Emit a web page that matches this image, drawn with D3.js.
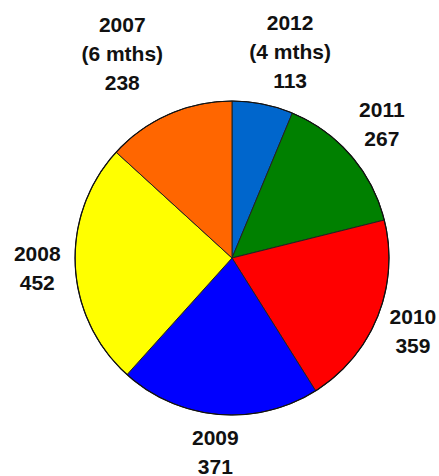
<!DOCTYPE html>
<html>
<head>
<meta charset="utf-8">
<script src="https://cdn.jsdelivr.net/npm/d3@7/dist/d3.min.js"></script>
<style>
  html, body { margin: 0; padding: 0; background: #fff; }
  svg { display: block; }
</style>
</head>
<body>
<svg id="chart" width="439" height="476"></svg>
<script>
// ---- data ----
const categories = ["2012", "2011", "2010", "2009", "2008", "2007"];
const notes = ["(4 mths)", "", "", "", "", "(6 mths)"];
const values = [113, 267, 359, 371, 452, 238];
const colors = ["#0066CC", "#008000", "#FF0000", "#0000FF", "#FFFF00", "#FF6600"];

// ---- layout ----
const W = 439, H = 476;
const cx = 232, cy = 258, r = 157;
const labelR = 195, labelR3 = 220;
const fontSize = 21, lineH = 29, capH = 15;
const labelNudge = { "2012": [15, 9], "2007": [-21, -3], "2011": [2, -7] };

const rows = categories.map((c, i) => ({ cat: c, note: notes[i], value: values[i], color: colors[i] }));

const svg = d3.select("#chart");
const g = svg.append("g").attr("transform", `translate(${cx},${cy})`);

const pie = d3.pie().value(d => d.value).sort(null).startAngle(0).endAngle(2 * Math.PI);
const arcs = pie(rows);
const arc = d3.arc().innerRadius(0).outerRadius(r);

g.selectAll("path.slice")
  .data(arcs)
  .enter().append("path")
  .attr("class", "slice")
  .attr("d", arc)
  .attr("fill", d => d.data.color)
  .attr("stroke", "#222")
  .attr("stroke-width", 1)
  .attr("stroke-linejoin", "round");

g.append("circle").attr("r", r).attr("fill", "none").attr("stroke", "#111").attr("stroke-width", 1.2);

arcs.forEach(a => {
  const lines = [a.data.cat];
  if (a.data.note) lines.push(a.data.note);
  lines.push(String(a.data.value));
  const mid = (a.startAngle + a.endAngle) / 2;
  const R = lines.length > 2 ? labelR3 : labelR;
  const nudge = labelNudge[a.data.cat] || [0, 0];
  const x = R * Math.sin(mid) + nudge[0];
  const yMid = -R * Math.cos(mid) + nudge[1];
  const y0 = yMid - ((lines.length - 1) * lineH - capH) / 2;
  const t = g.append("text")
    .attr("text-anchor", "middle")
    .attr("font-family", "'Liberation Sans', Arial, sans-serif")
    .attr("font-weight", "bold")
    .attr("font-size", fontSize)
    .attr("fill", "#111");
  lines.forEach((ln, i) => {
    t.append("tspan").attr("x", x).attr("y", y0 + i * lineH).text(ln);
  });
});
</script>
</body>
</html>
